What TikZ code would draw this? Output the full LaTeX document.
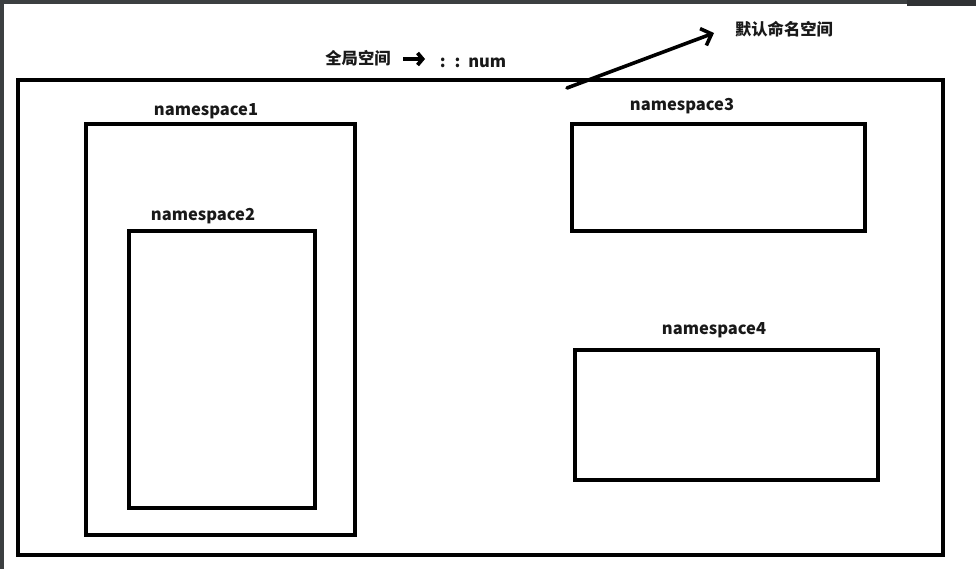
\documentclass[tikz,border=0pt]{standalone}
\usepackage{fontspec}
\setmainfont{Noto Sans CJK SC}
\newfontfamily\cjk{Noto Sans CJK SC}
\usetikzlibrary{arrows.meta}
\definecolor{frame}{HTML}{3C3F41}
\begin{document}
\begin{tikzpicture}[x=1pt,y=-1pt,
  nsbox/.style={draw=black,line width=3.8pt,inner sep=0pt,outer sep=0pt,anchor=north west,fill=none},
  lbl/.style={font=\cjk\bfseries\fontsize{16.5}{18}\selectfont,inner sep=0pt,text=black!90},
  cjklbl/.style={font=\cjk\bfseries\fontsize{16.3}{18}\selectfont,inner sep=0pt,text=black!90},
  bigarrow/.style={line width=3.6pt,line cap=round,-{Straight Barb[length=9pt,width=18pt,line width=3.6pt]}},
  smallarrow/.style={line width=3.6pt,-{Straight Barb[length=5pt,width=12pt,line width=3.8pt]}}
]
\useasboundingbox (0,0) rectangle (976,569);
\fill[white] (0,0) rectangle (976,569);
% screenshot frame
\fill[frame] (0,0) rectangle (976,4);
\fill[frame!80!black] (907,0) rectangle (976,6);
\fill[frame] (0,0) rectangle (4,569);
% boxes
\node[nsbox,minimum width=925pt,minimum height=475pt] (outer) at (18,80) {};
\node[nsbox,minimum width=269pt,minimum height=411pt] (ns1) at (86,124) {};
\node[nsbox,minimum width=186pt,minimum height=277pt] (ns2) at (129,231) {};
\node[nsbox,minimum width=293pt,minimum height=107pt] (ns3) at (572,124) {};
\node[nsbox,minimum width=303pt,minimum height=130pt] (ns4) at (575,350) {};
% labels
\node[lbl] (l1) at (206,111) {namespace1};
\node[lbl] (l2) at (203,216) {namespace2};
\node[lbl] (l3) at (682,106) {namespace3};
\node[lbl] (l4) at (714,330) {namespace4};
% global
\node[cjklbl] (glob) at (358,58) {全局空间};
\node[lbl] (num) at (473,63) {:\hspace{9pt}:\hspace{8pt}num};
\coordinate (sa) at (403,59);
\coordinate (sb) at (425,59);
\draw[smallarrow] (sa) -- (sb);
% default namespace
\node[cjklbl] (dflt) at (784,29) {默认命名空间};
\coordinate (ba) at (567,88);
\coordinate (bb) at (714,33);
\draw[bigarrow] (ba) -- (bb);
\end{tikzpicture}
\end{document}
